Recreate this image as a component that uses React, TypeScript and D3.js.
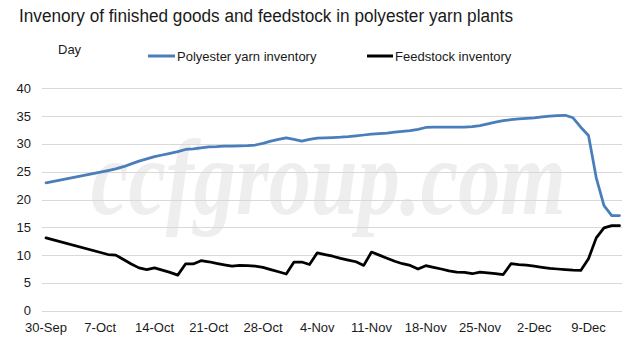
import React from "react";
import * as d3 from "d3";

const dates = [
  "2019-09-30",
  "2019-10-08", "2019-10-09", "2019-10-10", "2019-10-11", "2019-10-12", "2019-10-13", "2019-10-14",
  "2019-10-15", "2019-10-16", "2019-10-17", "2019-10-18", "2019-10-19", "2019-10-20", "2019-10-21",
  "2019-10-22", "2019-10-23", "2019-10-24", "2019-10-25", "2019-10-26", "2019-10-27", "2019-10-28",
  "2019-10-29", "2019-10-30", "2019-10-31",
  "2019-11-01", "2019-11-02", "2019-11-03", "2019-11-04", "2019-11-05", "2019-11-06", "2019-11-07",
  "2019-11-08", "2019-11-09", "2019-11-10", "2019-11-11", "2019-11-12", "2019-11-13", "2019-11-14",
  "2019-11-15", "2019-11-16", "2019-11-17", "2019-11-18", "2019-11-19", "2019-11-20", "2019-11-21",
  "2019-11-22", "2019-11-23", "2019-11-24", "2019-11-25", "2019-11-26", "2019-11-27", "2019-11-28",
  "2019-11-29", "2019-11-30",
  "2019-12-01", "2019-12-02", "2019-12-03", "2019-12-04", "2019-12-05", "2019-12-06", "2019-12-07",
  "2019-12-08", "2019-12-09", "2019-12-10", "2019-12-11", "2019-12-12", "2019-12-13",
];

const polyesterYarn = [
  23.0,
  25.2, 25.5, 25.9, 26.4, 26.9, 27.3, 27.7,
  28.0, 28.3, 28.6, 29.0, 29.1, 29.3, 29.45,
  29.5, 29.6, 29.6, 29.65, 29.7, 29.8, 30.1,
  30.5, 30.8, 31.1,
  30.8, 30.5, 30.8, 31.05, 31.1, 31.15, 31.2,
  31.3, 31.45, 31.6, 31.75, 31.85, 31.95, 32.1,
  32.25, 32.4, 32.6, 32.95, 33.0, 33.0, 33.0,
  33.0, 33.0, 33.1, 33.3, 33.6, 33.9, 34.2,
  34.35, 34.5,
  34.6, 34.7, 34.85, 35.0, 35.1, 35.15, 34.7,
  33.0, 31.5, 23.9, 18.9, 17.1, 17.1,
];

const feedstock = [
  13.1,
  10.1, 10.0, 9.2, 8.4, 7.7, 7.4, 7.7,
  7.3, 6.9, 6.4, 8.4, 8.4, 9.0, 8.8,
  8.5, 8.25, 8.0, 8.15, 8.1, 8.0, 7.8,
  7.4, 7.0, 6.6,
  8.75, 8.75, 8.3, 10.4, 10.1, 9.8, 9.4,
  9.1, 8.8, 8.15, 10.55, 10.0, 9.45, 8.9,
  8.45, 8.15, 7.5, 8.1, 7.8, 7.5, 7.15,
  6.95, 6.9, 6.65, 6.95, 6.8, 6.65, 6.5,
  8.45, 8.3,
  8.2, 8.0, 7.8, 7.6, 7.5, 7.4, 7.3,
  7.25, 9.35, 13.1, 14.9, 15.3, 15.3,
];

const yTicks = [0, 5, 10, 15, 20, 25, 30, 35, 40];
const xTickDates = [
  "2019-09-30", "2019-10-07", "2019-10-14", "2019-10-21", "2019-10-28", "2019-11-04",
  "2019-11-11", "2019-11-18", "2019-11-25", "2019-12-02", "2019-12-09",
];
const xTickLabels = [
  "30-Sep", "7-Oct", "14-Oct", "21-Oct", "28-Oct", "4-Nov",
  "11-Nov", "18-Nov", "25-Nov", "2-Dec", "9-Dec",
];

const seriesNames = ["Polyester yarn inventory", "Feedstock inventory"];
const seriesColors = ["#4A7EBB", "#000000"];

const FONT = "'Liberation Sans', Arial, sans-serif";

export default function App() {
  const W = 643;
  const H = 341;
  const parse = d3.timeParse("%Y-%m-%d");
  const x = d3
    .scaleTime()
    .domain([parse("2019-09-30") as Date, parse("2019-12-13") as Date])
    .range([46, 619.5]);
  const y = d3.scaleLinear().domain([0, 40]).range([310.7, 88.3]);
  const plotLeft = 42;
  const plotRight = 622;

  const seriesValues = [polyesterYarn, feedstock];
  const line = d3
    .line<[Date, number]>()
    .x((d) => x(d[0]))
    .y((d) => y(d[1]));

  const paths = seriesValues.map((vals) =>
    line(vals.map((v, i) => [parse(dates[i]) as Date, v]))
  );

  return (
    <svg
      width={W}
      height={H}
      style={{ position: "absolute", left: 0, top: 0, background: "#fff" }}
      fontFamily={FONT}
    >
      <rect x={0} y={0} width={W} height={H} fill="#fff" />
      <g transform="translate(91,214) scale(0.78,1)">
        <text
          x={0}
          y={0}
          fontFamily="'Liberation Serif', 'Times New Roman', serif"
          fontStyle="italic"
          fontWeight="bold"
          fontSize={108}
          fill="#eeeeee"
        >
          ccfgroup.com
        </text>
      </g>
      <text x={19} y={22} fontSize={18} fill="#1a1a1a" textLength={494} lengthAdjust="spacingAndGlyphs">
        Invenory of finished goods and feedstock in polyester yarn plants
      </text>
      <text x={58} y={54} fontSize={13} fill="#1a1a1a">
        Day
      </text>
      {[
        { x1: 148, x2: 175, tx: 177 },
        { x1: 367, x2: 393, tx: 395 },
      ].map((l, i) => (
        <g key={i}>
          <line x1={l.x1} x2={l.x2} y1={56} y2={56} stroke={seriesColors[i]} strokeWidth={3} />
          <text x={l.tx} y={56} dy="0.35em" fontSize={13} fill="#1a1a1a">
            {seriesNames[i]}
          </text>
        </g>
      ))}
      {yTicks.map((t) => (
        <g key={t}>
          <line
            x1={plotLeft}
            x2={plotRight}
            y1={Math.round(y(t)) + 0.5}
            y2={Math.round(y(t)) + 0.5}
            stroke="#d9d9d9"
            strokeWidth={1}
          />
          <text x={31} y={y(t)} dy="0.35em" textAnchor="end" fontSize={13} fill="#1a1a1a">
            {t}
          </text>
        </g>
      ))}
      {xTickDates.map((d, i) => (
        <text
          key={d}
          x={x(parse(d) as Date)}
          y={327}
          dy="0.35em"
          textAnchor="middle"
          fontSize={13}
          fill="#1a1a1a"
        >
          {xTickLabels[i]}
        </text>
      ))}
      {paths.map((p, i) => (
        <path
          key={i}
          d={p || ""}
          fill="none"
          stroke={seriesColors[i]}
          strokeWidth={2.75}
          strokeLinejoin="round"
          strokeLinecap="round"
        />
      ))}
    </svg>
  );
}
